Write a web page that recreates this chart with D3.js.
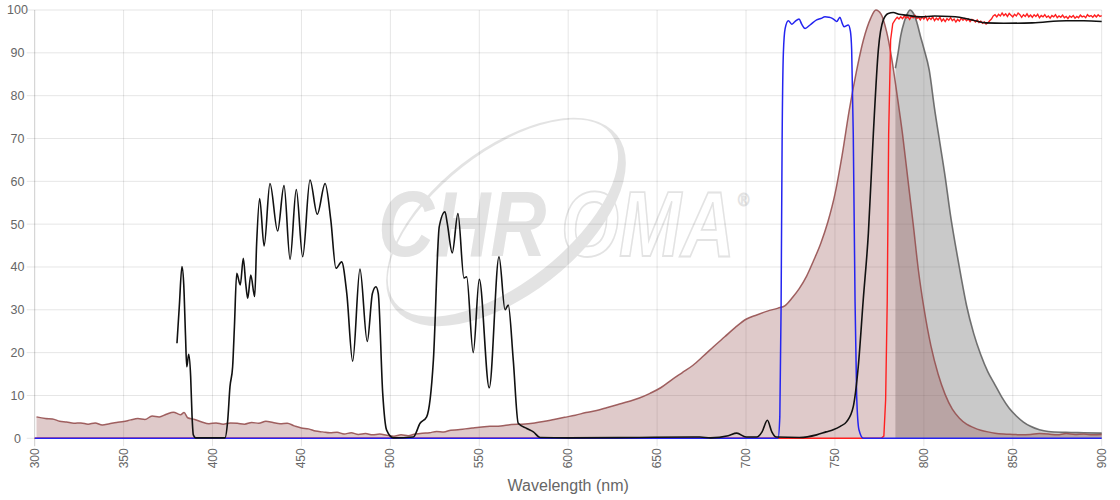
<!DOCTYPE html>
<html>
<head>
<meta charset="utf-8">
<script src="https://cdn.jsdelivr.net/npm/d3@7"></script>
<style>
  html, body { margin: 0; padding: 0; background: #fff; }
  svg { display: block; font-family: "Liberation Sans", Arial, Helvetica, sans-serif; }
</style>
</head>
<body>
<svg id="chart" width="1120" height="500"></svg>
<script>
// ---------------- DATA ----------------
const xTicks = [300, 350, 400, 450, 500, 550, 600, 650, 700, 750, 800, 850, 900];
const yTicks = [0, 10, 20, 30, 40, 50, 60, 70, 80, 90, 100];
const xTitle = "Wavelength (nm)";

// Dye excitation spectrum (brown, filled)
const exWl = [301,306,310,314,318,322,326,330,334,338,342,346,350,354,358,362,366,370,374,378,382,384,386,390,394,398,402,406,410,414,418,422,426,430,434,438,442,446,450,454,458,462,466,470,474,478,482,486,490,494,498,502,506,510,514,518,522,526,530,534,538,542,546,550,556,562,568,574,580,586,592,598,604,610,616,622,628,634,640,646,652,658,664,670,676,682,688,694,700,706,712,718,722,726,730,734,738,742,746,750,754,758,762,766,770,773,776,779,782,785,788,791,794,797,800,804,808,812,816,820,824,828,832,836,840,845,850,855,860,865,870,875,880,885,890,895,900];
const exVal = [5.0,4.6,4.5,4.0,3.8,3.5,3.6,3.3,3.6,3.1,3.4,3.7,3.9,4.3,4.6,4.4,5.2,5.0,5.6,6.1,5.5,6.0,4.8,4.4,3.8,3.4,3.6,3.3,3.6,3.5,3.3,3.7,3.5,4.0,3.7,3.4,3.5,2.9,2.4,2.2,1.7,1.5,1.3,1.4,1.0,1.3,0.9,1.1,0.8,1.0,0.7,0.5,0.8,0.6,1.0,1.2,1.3,1.6,1.5,1.9,2.0,2.2,2.4,2.6,2.8,2.9,3.2,3.3,3.5,3.9,4.4,4.9,5.4,6.0,6.5,7.2,7.9,8.6,9.4,10.5,11.8,13.6,15.3,17.0,19.2,21.5,23.7,25.9,27.8,28.8,29.7,30.4,31.0,32.8,35.0,37.8,41.5,45.5,50.5,57.0,66.0,76.5,85.5,93.0,98.0,100,99.0,95.0,88.5,80.0,71.0,60.5,50.0,39.0,30.5,21.5,15.0,10.2,6.8,4.7,3.3,2.5,1.9,1.5,1.2,1.0,0.9,0.8,0.9,1.1,1.0,0.8,1.1,0.9,1.0,0.8,0.9];

// Dye emission spectrum (grey, filled)
const emWl = [784,785.5,787,789,790.5,792.3,794,796,798,800,803,806,809,812,815,818,821,824,828,832,836,840,844,848,852,856,860,865,870,880,890,900];
const emVal = [86.4,90,94,97.3,99,100,99.3,97.2,94,91,86,77,69,61,52,44.5,37.5,31,24.5,19.5,15.5,12.5,9.5,7,5.2,3.8,2.8,2.0,1.6,1.4,1.3,1.2];

// Excitation filter (blue)
const bpWl = [300,718,719,719.7,720.3,721,722,723.8,725.7,727.5,729.8,731.3,733.2,736,739.7,742,744.4,746.5,748.2,750,751,752.8,754,755.1,757.5,758.7,759.4,760.3,761.3,762.2,763.5,766,900];
const bpVal = [0,0,5,30,70,90,95.7,97.5,96.7,97.3,97.9,96.7,95.7,96.5,97.7,98.0,98.4,98.3,98.1,97.6,97.3,98.3,97.0,96.1,96.5,95.0,90.7,71,32,10,2,0,0];

// Emission filter (red)
const lpWl = [300,776,777.5,778.5,779.4,780.2,781.3,782.5,784,785,786,787,788,789,790,791,792,793,794,795,796,797,798,799,800,801,802,803,804,805,806,807,808,809,810,811,812,813,814,815,816,817,818,819,820,821,822,823,824,825,826,827,828,829,830,831,832,833,834,835,836,837,838,839,840,841,842,843,844,845,846,847,848,849,850,851,852,853,854,855,856,857,858,859,860,861,862,863,864,865,866,867,868,869,870,871,872,873,874,875,876,877,878,879,880,881,882,883,884,885,886,887,888,889,890,891,892,893,894,895,896,897,898,899,900];
const lpVal = [0,0,0.5,9,32,71,93,96.8,97.8,98.3,97.9,98.4,98.0,98.6,98.1,98.4,97.8,98.5,98.2,98.7,98.0,98.3,97.7,98.4,97.9,98.5,97.6,98.2,97.8,98.4,97.5,98.1,97.7,98.3,97.4,97.9,97.3,98.0,97.6,98.2,97.5,97.9,97.2,97.8,97.4,98.1,97.6,98.0,97.5,97.9,97.3,97.8,97.6,97.2,97.7,97.1,97.4,96.9,97.2,96.7,97.0,97.5,97.9,98.6,98.9,98.4,99.0,98.6,99.3,98.7,99.1,98.5,99.2,98.8,98.4,99.0,98.6,99.3,98.9,98.3,98.9,98.5,99.1,98.4,98.8,98.3,98.9,98.5,99.0,98.2,98.7,98.4,98.9,98.3,98.6,98.1,98.7,98.4,98.9,98.2,98.6,98.3,98.8,98.2,98.5,98.0,98.6,98.3,98.7,98.1,98.5,98.2,98.8,98.4,98.6,98.2,98.9,98.5,98.7,98.3,98.8,98.4,98.9,98.5,98.7];

// Multiband + long-pass dichroic (black)
const dcWl = [380,381.3,382.8,383.8,384.8,385.5,386.6,387.7,388.5,389.2,390.5,407,408.5,409.8,411.3,412.3,413.6,415.6,417.3,418.7,419.8,421.5,423.7,424.8,426.5,429.0,432.3,436.6,440.2,443.6,447.1,450.7,454.8,458.9,463.3,466.5,469.4,472.6,475.5,478.8,482.9,487.0,489.9,491.9,493.2,495.7,497.9,501.7,512.9,516.7,520.4,524.2,527.5,530.7,532.0,534.8,538.0,541.4,542.9,546.6,550.0,555.6,561.1,564.5,566.3,569.1,571.9,576.7,580.4,584.2,600,640,674,680,690,694.8,700,706,709,712,714.5,717,730,739.7,745,749,753,756.6,760.3,763.1,765.9,768.8,771.6,774.4,777.2,780,782.8,786,790,798,806,814.7,820,827.7,835,845,861,880,890,900];
const dcVal = [22.2,30.7,40.1,36,24,16.7,19.6,14.4,5,0.8,0.1,0.1,4,12,16.7,26,38.5,35.8,42.0,36,32.7,38.1,33.1,45.5,56.0,44.9,59.5,48.4,59.0,41.8,58.1,42.4,60.3,52.3,59.5,51.0,39.7,41.2,33.8,18.0,39.5,22.6,33.8,35.4,33.8,10.5,1.9,0.1,0.3,3.5,5.0,18.3,49.4,52.9,50.2,43.3,52.5,37.4,37.7,20.0,37.1,11.8,42.4,30.0,31.1,18.3,3.5,2.3,1.5,0.2,0.1,0.2,0.3,0.1,0.6,1.2,0.3,0.3,1.5,4.2,1.5,0.3,0.2,0.8,1.5,2.0,2.8,3.9,7.4,16.7,32.3,47.9,71.2,90.7,97.7,99.2,99.4,99.0,98.8,98.4,98.6,98.5,98.3,97.6,97.0,96.9,97.0,97.5,97.5,97.3];

// ---------------- CHART ----------------
(function () {
const svg = d3.select("#chart");
const mL = 34.7, mR = 1101.7, mT = 10, mB = 438.3;

const x = d3.scaleLinear().domain([300, 900]).range([mL, mR]);
const y = d3.scaleLinear().domain([0, 100]).range([mB, mT]);

// Watermark (logo) - behind grid
const defs = svg.append("defs");
const mask = defs.append("mask").attr("id", "swooshMask");
mask.append("rect").attr("x", 0).attr("y", 0).attr("width", 1120).attr("height", 500).attr("fill", "black");
mask.append("ellipse").attr("cx", 0).attr("cy", 0).attr("rx", 141).attr("ry", 73)
  .attr("transform", "translate(506,222) rotate(-38)").attr("fill", "white");
mask.append("ellipse").attr("cx", 0).attr("cy", -5).attr("rx", 137).attr("ry", 65)
  .attr("transform", "translate(506,222) rotate(-38)").attr("fill", "black");
const wm = svg.append("g").attr("class", "watermark");
wm.append("rect").attr("x", 300).attr("y", 80).attr("width", 420).attr("height", 300)
  .attr("fill", "#e3e3e3").attr("mask", "url(#swooshMask)");
const wmFont = g => g.attr("font-family", "Liberation Sans, Arial, sans-serif")
  .attr("font-weight", "bold").attr("font-style", "italic").attr("font-size", 92);
wm.append("text").attr("transform", "translate(378,256) scale(0.845,1)").call(wmFont)
  .attr("fill", "#e3e3e3").text("CHR");
const t2 = wm.append("text").attr("transform", "translate(561,256) scale(0.81,1)").call(wmFont)
  .attr("fill", "none").attr("stroke", "#e3e3e3");
t2.append("tspan").attr("stroke-width", 1.8).text("OMA");
t2.append("tspan").attr("dx", 4).attr("dy", -50).attr("font-size", 19)
  .attr("font-style", "normal").attr("font-weight", "normal").attr("stroke-width", 1.1).text("®");

// Grid
const grid = svg.append("g");
grid.selectAll("line.h").data(yTicks).enter().append("line")
  .attr("x1", mL - 8).attr("x2", mR)
  .attr("y1", d => y(d)).attr("y2", d => y(d))
  .attr("stroke", "rgba(0,0,0,0.1)").attr("stroke-width", 1);
grid.selectAll("line.v").data(xTicks).enter().append("line")
  .attr("x1", d => x(d)).attr("x2", d => x(d))
  .attr("y1", mT).attr("y2", mB + 8)
  .attr("stroke", d => d === 300 ? "rgba(0,0,0,0.2)" : "rgba(0,0,0,0.1)").attr("stroke-width", 1);

// Tick labels
svg.append("g").selectAll("text").data(yTicks).enter().append("text")
  .attr("x", 17.5).attr("y", d => y(d)).attr("dy", "0.35em")
  .attr("text-anchor", "middle").attr("font-size", 12.5).attr("fill", "#666")
  .text(d => d);
svg.append("g").selectAll("text").data(xTicks).enter().append("text")
  .attr("transform", d => `translate(${x(d) + 4},${mB + 10}) rotate(-90)`)
  .attr("text-anchor", "end").attr("font-size", 12).attr("fill", "#666")
  .text(d => d);
svg.append("text").attr("x", (mL + mR) / 2).attr("y", 491)
  .attr("text-anchor", "middle").attr("font-size", 16).attr("fill", "#666").text(xTitle);

// Series
const zip = (w, v) => w.map((d, i) => [d, v[i]]);
const curve = d3.curveMonotoneX;
const line = d3.line().x(d => x(d[0])).y(d => y(d[1])).curve(curve);
const lineLin = d3.line().x(d => x(d[0])).y(d => y(d[1])).curve(d3.curveLinear);
const area = d3.area().x(d => x(d[0])).y0(y(0)).y1(d => y(d[1])).curve(curve);

const plot = svg.append("g");
const em = zip(emWl, emVal);
const ex = zip(exWl, exVal);
plot.append("path").attr("d", area(em)).attr("fill", "rgba(120,120,120,0.4)");
plot.append("path").attr("d", line(em)).attr("fill", "none").attr("stroke", "rgba(90,90,90,0.85)").attr("stroke-width", 1.6);
plot.append("path").attr("d", area(ex)).attr("fill", "rgba(150,80,80,0.3)");
plot.append("path").attr("d", line(ex)).attr("fill", "none").attr("stroke", "rgba(150,80,80,0.9)").attr("stroke-width", 1.5);
plot.append("path").attr("d", lineLin(zip(lpWl, lpVal))).attr("fill", "none").attr("stroke", "#ff2020").attr("stroke-width", 1.4);
plot.append("path").attr("d", line(zip(bpWl, bpVal))).attr("fill", "none").attr("stroke", "#2424f0").attr("stroke-width", 1.5);
plot.append("path").attr("d", line(zip(dcWl, dcVal))).attr("fill", "none").attr("stroke", "#111").attr("stroke-width", 1.6);
})();
</script>
</body>
</html>
